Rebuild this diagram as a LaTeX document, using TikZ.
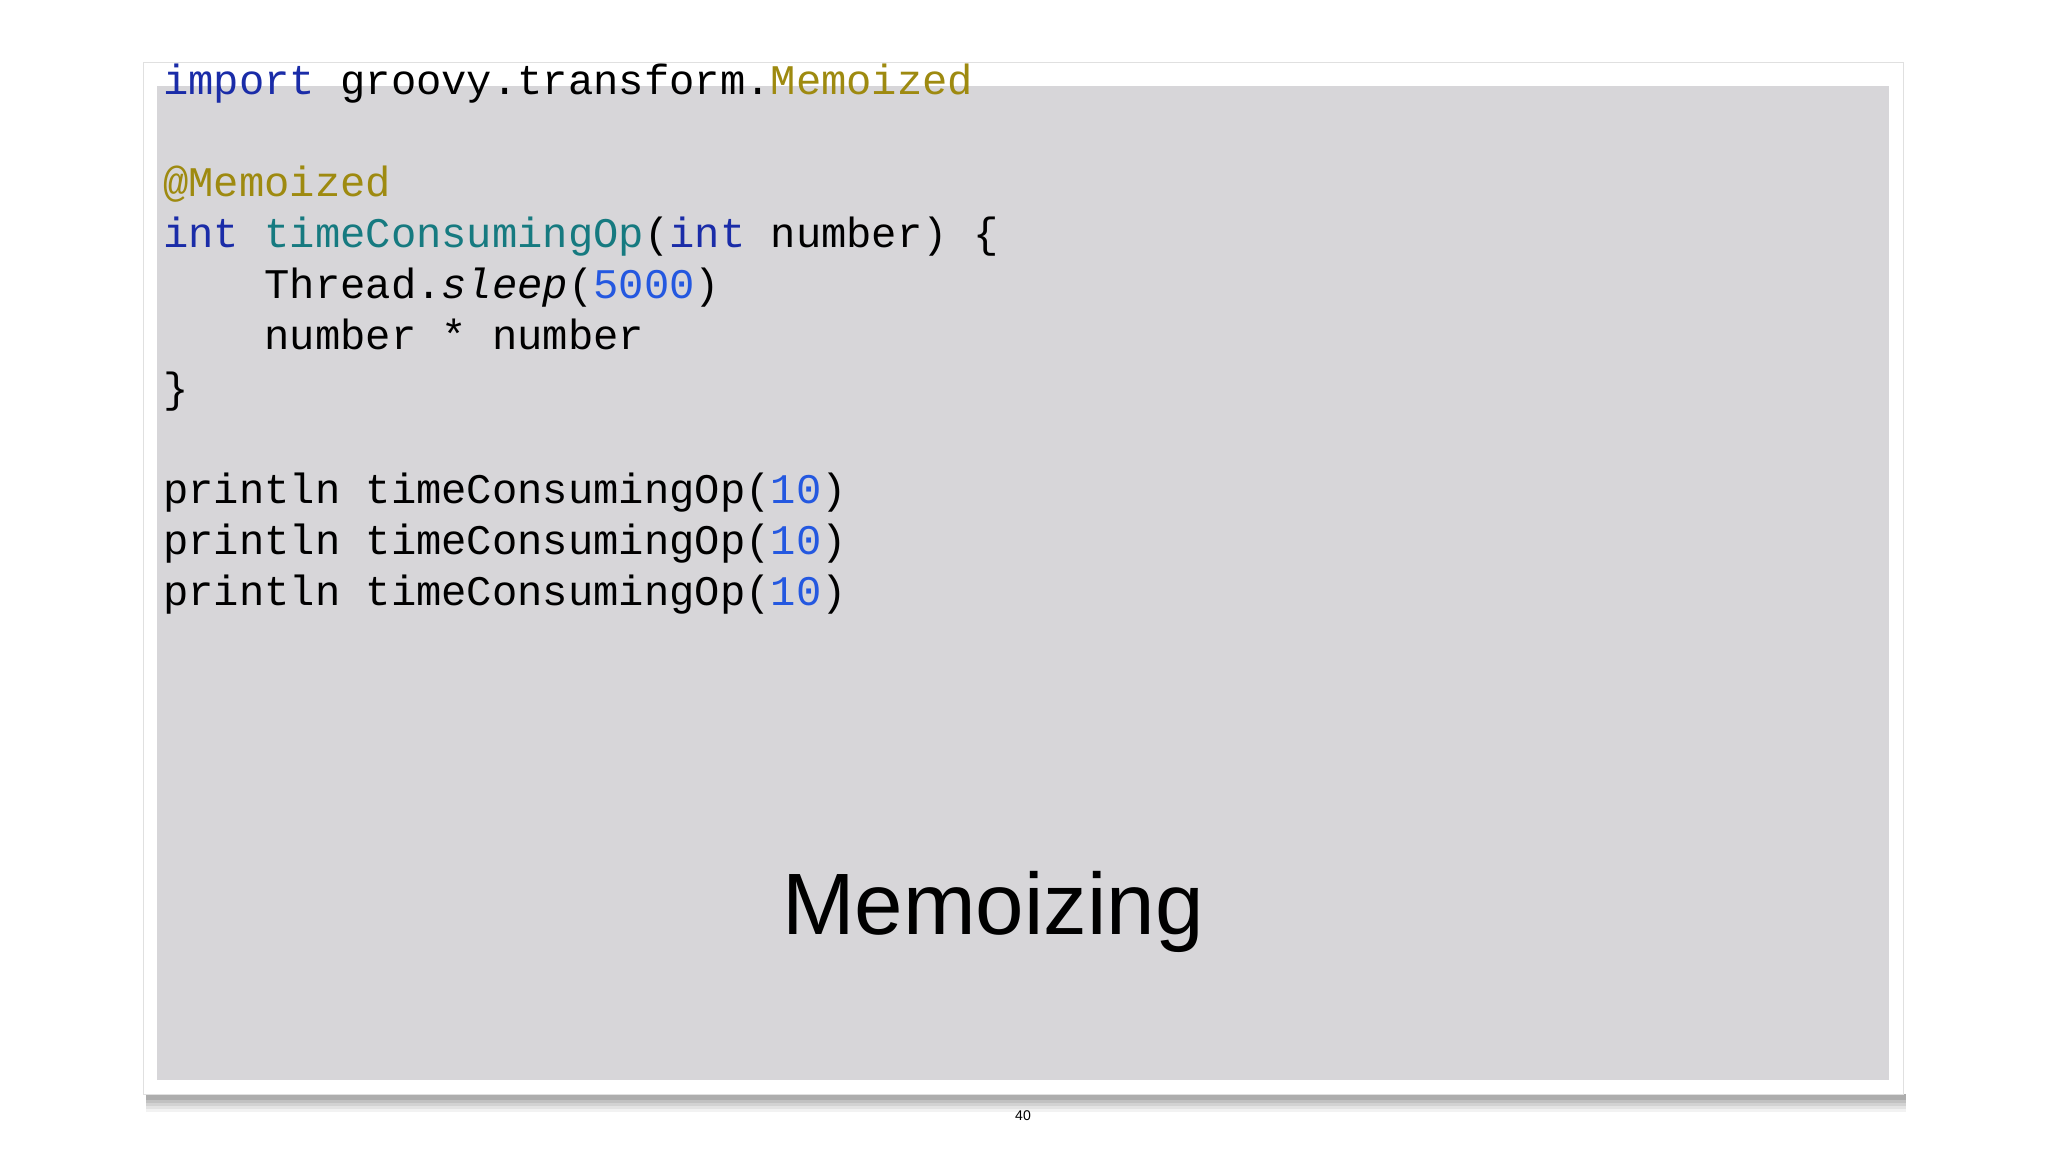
\documentclass[tikz,border=0pt]{standalone}
\usepackage{fontspec}
\setmainfont{Liberation Sans}
\newfontfamily\codefont{Liberation Mono}
\definecolor{kw}{HTML}{1A2CA8}
\definecolor{fn}{HTML}{167A80}
\definecolor{ann}{HTML}{9E8A10}
\definecolor{num}{HTML}{2458E0}
\definecolor{panel}{HTML}{D7D6D9}
\tikzset{code/.style={anchor=base west,inner sep=0pt,font=\codefont\fontsize{30}{30}\selectfont}}
\begin{document}
\begin{tikzpicture}[x=0.25mm,y=-0.25mm]
\useasboundingbox (0,0) rectangle (2048,1152);
\fill[white] (0,0) rectangle (2048,1152);
\foreach \i/\o in {0/0.05,3/0.06,6/0.07,9/0.08,12/0.1}{
  \fill[black,opacity=\o] (146,1094) rectangle (1906,1112-\i);
}
\fill[white] (143,62) rectangle (1903,1094);
\draw[black!12] (143,62) rectangle (1903,1094);
\fill[panel] (157,50+36) rectangle (1889,1080);
\node[code] (l1) at (163,94) {\textcolor{kw}{import} groovy.transform.\textcolor{ann}{Memoized}};
\node[code] (l2) at (163,196) {\textcolor{ann}{@Memoized}};
\node[code] (l3) at (163,247) {\textcolor{kw}{int} \textcolor{fn}{timeConsumingOp}(\textcolor{kw}{int} number) \{};
\node[code] (l4) at (163,298) {\ \ \ \ Thread.\textit{sleep}(\textcolor{num}{5000})};
\node[code] (l5) at (163,349) {\ \ \ \ number * number};
\node[code] (l6) at (163,402) {\}};
\node[code] (l7) at (163,503) {println timeConsumingOp(\textcolor{num}{10})};
\node[code] (l8) at (163,554) {println timeConsumingOp(\textcolor{num}{10})};
\node[code] (l9) at (163,605) {println timeConsumingOp(\textcolor{num}{10})};
\node[anchor=base,inner sep=0pt,font=\fontsize{62}{62}\selectfont] (title) at (993,934) {Memoizing};
\node[anchor=base,inner sep=0pt,font=\fontsize{10}{10}\selectfont] (pg) at (1023,1120) {40};
\end{tikzpicture}
\end{document}
